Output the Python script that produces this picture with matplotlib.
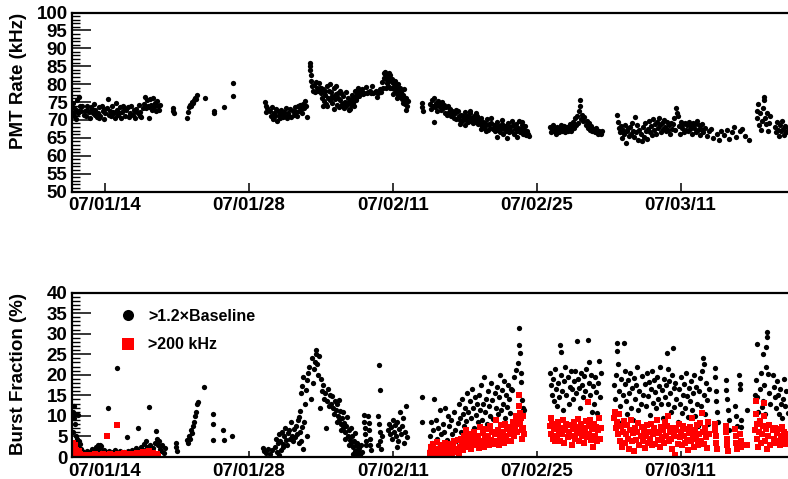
import matplotlib
matplotlib.use('Agg')
import matplotlib.pyplot as plt
from matplotlib.ticker import MultipleLocator, FixedLocator, FixedFormatter

# fonts: bold helvetica-like, like the ROOT canvas
plt.rcParams['font.family'] = ['Liberation Sans', 'DejaVu Sans']
plt.rcParams['font.weight'] = 'bold'
plt.rcParams['axes.labelweight'] = 'bold'

# x axis is day of year 2007
tick_days = [14, 28, 42, 56, 70]
tick_labels = ['07/01/14', '07/01/28', '07/02/11', '07/02/25', '07/03/11']

# PMT rate (kHz), (day, rate)
pmt_points = [
    (10.8, 73.5), (10.85, 72.0), (10.9, 74.8), (11.0, 71.0), (11.05, 73.0), (11.15, 70.3), (11.25, 72.5),
    (11.3, 75.5), (11.4, 71.8), (11.5, 76.3), (11.6, 73.8), (11.7, 72.5), (11.8, 74.0), (11.95, 71.5),
    (12.1, 72.5), (12.2, 71.0), (12.3, 73.8), (12.45, 72.2), (12.55, 70.5), (12.7, 73.0), (12.8, 71.8),
    (12.95, 74.5), (13.05, 72.8), (13.2, 70.8), (13.3, 72.0), (13.45, 73.5), (13.55, 71.2), (13.7, 74.0),
    (13.8, 72.5), (13.95, 70.2), (14.05, 71.8), (14.2, 73.2), (14.3, 75.8), (14.45, 72.5), (14.55, 71.0),
    (14.7, 73.8), (14.8, 72.2), (14.95, 70.6), (15.05, 74.8), (15.2, 72.8), (15.3, 71.5), (15.45, 73.5),
    (15.55, 70.5), (15.7, 72.2), (15.8, 74.0), (15.95, 71.2), (16.05, 72.8), (16.2, 73.5), (16.3, 70.8),
    (16.45, 72.0), (16.55, 73.8), (16.7, 71.5), (16.8, 72.8), (16.95, 70.5), (17.05, 73.0), (17.2, 71.8),
    (17.3, 74.2), (17.45, 72.2), (17.55, 70.8), (17.7, 73.2),
    (12.25, 72.8), (12.6, 73.5), (13.0, 71.5), (13.4, 70.5), (13.9, 73.0), (14.4, 71.5), (14.9, 72.0),
    (15.4, 71.8), (15.9, 73.2), (16.4, 71.5), (16.9, 72.5), (17.4, 71.0),
    (17.8, 74.5), (17.9, 76.5), (18.0, 73.2), (18.05, 75.5), (18.15, 74.0), (18.25, 70.6), (18.3, 73.5),
    (18.4, 75.8), (18.5, 74.2), (18.6, 72.8), (18.7, 76.0), (18.8, 73.5), (18.9, 74.8), (19.0, 72.5),
    (19.1, 75.2), (19.2, 73.8), (19.3, 72.8), (19.4, 74.2),
    (20.6, 73.4), (20.65, 72.6), (20.75, 71.9),
    (22.0, 70.6), (22.05, 72.2), (22.2, 73.6), (22.3, 74.2), (22.4, 73.8), (22.5, 75.0), (22.6, 74.6),
    (22.7, 75.5), (22.8, 76.2), (22.9, 75.8), (23.0, 77.0), (23.7, 76.2), (24.6, 72.0), (24.65, 72.5),
    (25.6, 73.6), (26.45, 80.3), (26.45, 76.7),
    (29.6, 75.0), (29.65, 74.0), (29.7, 72.2), (29.8, 73.2),
    (30.05, 72.5), (30.15, 71.0), (30.25, 73.5), (30.35, 70.2), (30.45, 72.0), (30.55, 71.2), (30.65, 73.0),
    (30.75, 69.8), (30.85, 72.5), (30.95, 71.5), (31.05, 70.5), (31.15, 72.8), (31.25, 71.8), (31.35, 70.8),
    (31.45, 72.2), (31.55, 71.0), (31.65, 73.2), (31.75, 70.5), (31.85, 72.0), (31.95, 71.2), (32.05, 73.0),
    (32.15, 70.8), (32.25, 72.5), (32.35, 71.5), (32.45, 73.5), (32.55, 72.2), (32.65, 71.0), (32.75, 73.8),
    (32.85, 72.5), (32.95, 74.2), (33.05, 73.0), (33.15, 72.0), (33.25, 74.5), (33.35, 73.2), (33.45, 75.2),
    (33.55, 74.0), (33.65, 70.7),
    (33.95, 85.9), (33.95, 85.0), (33.98, 84.0), (34.0, 82.6), (34.05, 80.8), (34.1, 79.5), (34.2, 78.2),
    (34.3, 79.8), (34.4, 77.8), (34.5, 80.5), (34.6, 79.0), (34.7, 78.0), (34.8, 80.2), (34.9, 79.0),
    (35.0, 77.5), (35.1, 76.0), (35.2, 78.5), (35.3, 75.2), (35.4, 77.0), (35.5, 74.5), (35.6, 79.5),
    (35.7, 76.2), (35.8, 78.0), (35.9, 75.5), (36.0, 77.8), (36.1, 74.8), (36.2, 76.5), (36.3, 78.8),
    (36.4, 75.8), (36.5, 77.2), (36.6, 74.2), (36.7, 76.0), (36.8, 73.5), (36.9, 75.5), (37.0, 77.5),
    (37.1, 74.5), (37.2, 76.8), (37.3, 73.2), (37.4, 75.0), (37.5, 74.0), (37.6, 76.2), (37.7, 72.8),
    (37.8, 75.5), (37.9, 74.2), (38.0, 77.0), (38.1, 74.8), (38.2, 76.5), (38.3, 78.2), (38.4, 75.5),
    (38.5, 77.2), (38.6, 79.0), (38.7, 76.8),
    (35.05, 79.0), (35.25, 73.8), (35.45, 78.2), (35.65, 74.0), (35.85, 80.0), (36.05, 76.8),
    (36.25, 73.0), (36.45, 79.5), (36.65, 77.5), (36.85, 78.2), (37.05, 73.8), (37.25, 74.8),
    (37.45, 77.8), (37.65, 74.8), (37.85, 73.0), (38.05, 75.8), (38.25, 73.8), (38.45, 76.2),
    (38.65, 78.2),
    (38.9, 77.8), (39.0, 78.5), (39.1, 77.2), (39.25, 77.6), (39.4, 79.2), (39.5, 77.5), (39.6, 77.8),
    (39.75, 78.0), (39.9, 77.6), (40.0, 79.6), (40.1, 77.4), (40.25, 77.8), (40.4, 78.2), (40.5, 76.5),
    (40.6, 77.6), (40.75, 78.5), (40.9, 77.9),
    (41.0, 80.5), (41.1, 81.8), (41.2, 82.8), (41.25, 83.4), (41.3, 81.5), (41.4, 80.2), (41.5, 82.0),
    (41.55, 79.5), (41.65, 81.2), (41.7, 82.5), (41.8, 80.8), (41.9, 79.0), (42.0, 80.2), (42.1, 78.5),
    (42.2, 79.8), (42.3, 77.8), (42.4, 79.0), (42.5, 77.0), (42.6, 78.5), (42.7, 76.5), (42.8, 77.8),
    (42.9, 75.8), (43.0, 77.0), (43.1, 75.5), (43.2, 74.5), (43.3, 76.0), (43.4, 73.8),
    (41.05, 78.8), (41.15, 83.0), (41.35, 79.0), (41.6, 83.2), (41.75, 78.8), (41.95, 81.5),
    (42.05, 77.2), (42.25, 81.0), (42.45, 76.2), (42.55, 80.0), (42.75, 78.8), (42.95, 74.8),
    (43.05, 78.5), (43.25, 72.8), (43.45, 75.2),
    (44.8, 74.7), (44.85, 73.6), (44.9, 72.5),
    (45.6, 74.5), (45.7, 73.0), (45.8, 75.5), (45.9, 74.0), (46.0, 76.0), (46.1, 73.5), (46.2, 74.8),
    (46.3, 72.5), (46.4, 75.2), (46.5, 73.8), (46.6, 74.5), (46.7, 72.8), (46.8, 75.0), (46.9, 73.2),
    (47.0, 74.2), (47.1, 72.0), (47.2, 73.5), (47.3, 71.5), (47.4, 74.0), (47.5, 72.2), (47.6, 73.0),
    (47.7, 71.2), (47.8, 72.5), (46.05, 69.4),
    (47.9, 72.0), (48.0, 70.5), (48.1, 71.8), (48.2, 70.2), (48.3, 72.5), (48.4, 71.0), (48.5, 70.0),
    (48.6, 71.5), (48.7, 69.8), (48.8, 71.2), (48.9, 70.5), (49.0, 72.2), (49.1, 70.0), (49.2, 71.0),
    (49.3, 69.5), (49.4, 70.8), (49.5, 71.8), (49.6, 69.8), (49.7, 70.5), (49.8, 69.2), (49.9, 71.0),
    (50.0, 70.0), (50.1, 69.5), (50.2, 71.2), (50.3, 68.8), (50.4, 70.2), (50.5, 69.0), (50.6, 70.5),
    (50.7, 68.2), (50.8, 69.5), (50.9, 67.8), (51.0, 69.2), (51.1, 68.5), (51.2, 70.2), (51.3, 67.2),
    (51.4, 68.8), (51.5, 67.8), (51.6, 69.0),
    (48.15, 72.8), (48.55, 68.8), (49.05, 68.5), (49.55, 72.5), (50.05, 71.8), (50.55, 67.5),
    (51.05, 66.8), (51.55, 70.5), (52.1, 65.2), (52.6, 70.0), (53.1, 65.0), (53.6, 69.8),
    (54.1, 65.3), (54.6, 69.5),
    (51.75, 67.5), (51.85, 68.5), (51.95, 66.8), (52.05, 68.0), (52.15, 69.5), (52.25, 67.2), (52.35, 68.2),
    (52.45, 66.5), (52.55, 67.8), (52.65, 68.8), (52.75, 66.2), (52.85, 67.5), (52.95, 68.2), (53.05, 66.8),
    (53.15, 67.8), (53.25, 69.2), (53.35, 66.5), (53.45, 68.0), (53.55, 67.0), (53.65, 68.5), (53.75, 66.2),
    (53.85, 67.5), (53.95, 68.8), (54.05, 66.8), (54.15, 67.8), (54.25, 69.8), (54.35, 66.5), (54.45, 67.5),
    (54.55, 68.5), (54.65, 66.0), (54.75, 67.2), (54.85, 68.2), (54.95, 65.8), (55.05, 67.0), (55.15, 66.2),
    (55.3, 65.5),
    (57.3, 68.0), (57.35, 66.5), (57.45, 67.2), (57.55, 68.5), (57.65, 66.8), (57.75, 67.5), (57.85, 66.2),
    (57.95, 68.0), (58.05, 67.0), (58.15, 66.5), (58.25, 67.8), (58.35, 68.5), (58.45, 66.8), (58.55, 67.5),
    (58.65, 68.2), (58.75, 66.5), (58.85, 67.2), (58.95, 68.0), (59.05, 66.8), (59.15, 67.5), (59.25, 68.8),
    (59.35, 67.0), (59.45, 68.2), (59.55, 69.5), (59.65, 67.8), (59.75, 70.5), (59.85, 68.5), (59.95, 71.0),
    (60.05, 69.2), (60.15, 72.5), (60.2, 75.6), (60.25, 73.8), (60.35, 70.2), (60.45, 71.5), (60.55, 69.8),
    (60.65, 70.8), (60.75, 68.5), (60.85, 69.8), (60.95, 67.8), (61.05, 69.0), (61.15, 67.2), (61.25, 68.2),
    (61.35, 66.8), (61.5, 67.5), (61.65, 66.5), (61.8, 67.8), (61.95, 66.2), (62.1, 67.0), (62.25, 66.0),
    (62.4, 66.8),
    (63.85, 71.4), (63.9, 69.5), (64.0, 67.8), (64.1, 66.5), (64.2, 68.2), (64.3, 65.0), (64.4, 67.2),
    (64.5, 66.0), (64.6, 68.5), (64.7, 63.5), (64.8, 66.8), (64.9, 67.8), (65.0, 65.5), (65.1, 68.0),
    (65.2, 66.2), (65.3, 69.0), (65.4, 67.0), (65.5, 65.2), (65.6, 70.8), (65.7, 66.5), (65.8, 68.5),
    (65.9, 64.5), (66.0, 67.2), (66.1, 66.0), (66.2, 64.2), (66.3, 68.0), (66.4, 65.2), (66.5, 69.2),
    (66.6, 66.8), (66.7, 64.8), (66.8, 67.5), (66.9, 69.8), (67.0, 66.5), (67.1, 68.2), (67.2, 65.8),
    (67.3, 70.2), (67.4, 67.2), (67.5, 68.8), (67.6, 66.0), (67.7, 69.5), (67.8, 67.8), (67.9, 70.5),
    (68.0, 68.5), (68.1, 66.5), (68.2, 69.2), (68.3, 67.5), (68.4, 70.0), (68.5, 68.0), (68.6, 66.8),
    (68.7, 69.5), (68.8, 67.2), (68.9, 68.5), (69.0, 66.2), (69.1, 69.0), (69.2, 67.5), (69.3, 68.8),
    (69.4, 70.5), (69.5, 67.2), (69.6, 73.2), (69.65, 72.0), (69.7, 71.0), (69.8, 68.2), (69.9, 66.0),
    (70.0, 69.5), (70.1, 67.8), (70.2, 68.8), (70.3, 66.5), (70.4, 69.2), (70.5, 67.2), (70.6, 68.5),
    (70.7, 66.8), (70.8, 69.5), (70.9, 67.5), (71.0, 68.2), (71.1, 66.2), (71.2, 69.0), (71.3, 67.8),
    (71.4, 68.8), (71.5, 66.5), (71.6, 69.8), (71.7, 67.2), (71.8, 68.5), (71.9, 65.8), (72.0, 67.5),
    (72.1, 68.8), (72.2, 66.5), (72.4, 67.8), (72.6, 65.5), (72.8, 66.8), (73.0, 67.5), (73.2, 65.0),
    (73.5, 66.2), (73.7, 64.5), (73.9, 66.8), (74.2, 65.8), (74.5, 67.2), (74.7, 64.8), (75.0, 66.5),
    (75.2, 68.0), (75.4, 65.2), (75.8, 66.8), (76.0, 67.5), (76.3, 65.5), (76.7, 64.5),
    (77.4, 70.5), (77.45, 72.5), (77.5, 74.5), (77.6, 68.5), (77.7, 71.8), (77.8, 67.2), (77.9, 69.8),
    (78.0, 73.2), (78.1, 75.5), (78.15, 76.4), (78.2, 70.5), (78.3, 68.8), (78.4, 72.0), (78.5, 66.8),
    (78.6, 69.2), (78.7, 71.0), (79.2, 68.0), (79.3, 66.5), (79.4, 69.5), (79.5, 67.2), (79.6, 65.5),
    (79.7, 68.5), (79.8, 66.8), (79.9, 69.8), (80.0, 67.5), (80.1, 65.8), (80.2, 68.2), (80.3, 66.5),
    (80.4, 67.8),
]

# burst fraction (%) above 1.2 x baseline, (day, fraction)
burst_base_points = [
    (10.8, 3.5), (10.85, 6.0), (10.9, 11.0), (10.95, 12.5), (11.0, 9.5), (11.05, 8.0), (11.1, 10.5),
    (11.15, 5.0), (11.2, 3.0), (11.3, 4.5), (11.35, 10.3), (11.4, 2.5), (11.5, 4.0), (11.6, 3.2),
    (11.7, 2.0), (11.8, 1.5), (11.9, 1.2),
    (12.1, 1.0), (12.3, 1.5), (12.5, 1.2), (12.7, 2.0), (12.9, 1.8), (13.1, 2.5), (13.3, 1.5),
    (13.5, 2.2), (13.7, 1.0), (13.9, 1.8), (14.1, 1.2), (14.3, 11.9), (14.4, 1.5), (14.6, 0.8),
    (14.8, 1.2), (15.0, 1.8), (15.2, 21.7), (15.3, 1.0), (15.5, 1.5), (15.7, 0.8), (15.9, 1.2),
    (16.1, 4.9), (16.2, 1.5), (16.4, 1.0), (16.6, 1.8), (16.8, 1.2), (17.0, 2.2), (17.2, 7.1),
    (17.3, 1.5), (17.5, 2.5), (17.7, 1.8), (17.8, 3.2), (18.0, 4.0), (18.1, 2.5), (18.3, 12.2),
    (18.4, 3.0), (18.5, 1.8), (18.7, 2.2), (18.9, 3.5), (19.0, 6.3), (19.1, 4.5), (19.2, 2.8),
    (19.3, 3.8), (19.4, 2.0), (19.5, 1.5), (19.6, 3.0), (19.7, 1.0), (19.8, 2.2),
    (13.3, 2.8), (13.5, 3.0), (13.6, 2.6),
    (20.9, 3.5), (20.95, 2.5), (21.0, 1.5),
    (22.0, 4.1), (22.05, 3.5), (22.2, 5.0), (22.3, 4.5), (22.4, 6.5), (22.5, 5.8), (22.6, 7.5),
    (22.7, 8.5), (22.8, 10.0), (22.9, 10.9), (23.0, 12.8), (23.05, 13.3), (23.6, 17.0),
    (24.5, 10.5), (24.55, 8.0), (24.5, 4.1), (25.5, 6.6), (25.55, 4.1), (26.4, 5.1),
    (29.4, 2.2), (29.5, 1.5), (29.7, 1.0), (29.9, 2.0), (30.1, 0.8), (30.3, 1.6), (30.5, 2.4),
    (30.7, 1.2), (30.9, 0.6), (31.1, 1.8), (31.3, 2.5),
    (30.6, 4.5), (30.8, 3.5), (30.9, 5.5), (31.0, 4.0), (31.2, 6.0), (31.3, 3.2), (31.4, 5.0),
    (31.5, 7.0), (31.6, 4.2), (31.7, 3.0), (31.8, 5.8), (31.9, 6.5), (32.0, 4.5), (32.1, 8.5),
    (32.2, 5.2), (32.3, 3.8), (32.4, 6.8), (32.5, 4.8), (32.6, 7.5), (32.7, 5.5), (32.8, 9.0),
    (32.9, 3.5), (33.0, 6.2), (33.1, 4.0), (33.2, 7.2), (33.3, 2.0),
    (32.9, 9.7), (33.0, 11.1), (33.1, 15.5), (33.2, 17.3), (33.3, 19.5), (33.4, 8.5), (33.5, 13.0),
    (33.6, 16.3), (33.7, 18.7), (33.8, 20.4), (33.65, 5.0), (33.9, 22.0), (34.0, 14.0), (34.1, 24.0),
    (34.2, 18.0), (34.3, 21.5), (34.4, 23.0), (34.5, 26.0), (34.55, 25.0), (34.6, 22.5), (34.7, 20.0),
    (34.8, 24.5), (34.9, 12.0),
    (35.0, 19.0), (35.1, 16.0), (35.2, 17.5), (35.3, 14.0), (35.4, 15.5), (35.5, 7.0), (35.6, 13.5),
    (35.7, 16.5), (35.8, 12.5), (35.9, 15.0), (36.0, 13.0), (36.1, 14.8), (36.2, 12.0), (36.3, 10.5),
    (36.4, 13.5),
    (36.5, 11.5), (36.6, 12.8), (36.7, 10.0), (36.8, 9.0), (36.9, 11.2), (37.0, 8.0), (37.1, 9.5),
    (37.2, 7.0), (37.3, 8.2), (37.4, 6.0), (37.5, 7.5), (37.6, 5.0), (37.7, 6.5), (37.8, 4.2),
    (37.9, 3.5), (38.0, 5.0), (38.1, 2.5), (38.2, 4.0), (38.3, 1.5), (38.4, 3.0), (38.5, 0.8),
    (38.6, 2.0), (38.7, 1.0), (38.8, 0.5), (38.9, 2.8), (39.0, 1.2),
    (36.55, 8.5), (36.75, 13.8), (36.95, 6.5), (37.15, 11.0), (37.35, 4.5), (37.55, 9.8),
    (37.75, 3.0), (37.95, 7.0), (38.15, 0.8), (38.35, 5.8), (38.55, 3.5), (38.75, 2.2),
    (39.2, 10.3), (39.25, 8.5), (39.3, 7.0), (39.3, 5.5), (39.35, 4.0), (39.4, 2.8), (39.6, 10.0),
    (39.65, 8.2), (39.7, 6.5), (39.75, 4.5), (39.8, 3.0), (39.85, 1.6),
    (40.7, 22.4), (40.75, 16.3), (40.6, 10.0), (40.7, 8.0), (40.75, 6.0), (40.8, 4.0), (40.6, 3.0),
    (40.9, 2.0), (41.0, 5.0),
    (41.5, 6.5), (41.6, 8.0), (41.7, 5.5), (41.8, 7.2), (41.9, 4.5), (42.0, 9.0), (42.1, 6.0),
    (42.2, 7.8), (42.3, 5.0), (42.4, 8.5), (42.5, 4.0), (42.6, 6.8), (42.7, 11.0), (42.8, 5.5),
    (42.9, 7.5), (43.0, 9.5), (43.1, 3.5), (43.2, 6.2), (43.3, 12.5), (43.4, 4.8), (42.45, 2.4),
    (44.8, 14.6), (44.85, 8.5),
    (45.6, 5.0), (45.65, 2.0), (45.7, 8.5), (45.8, 3.5), (45.9, 6.5), (46.0, 14.0), (46.1, 1.5),
    (46.2, 9.0), (46.3, 4.5), (46.4, 7.0), (46.5, 2.5), (46.6, 11.5), (46.7, 5.5), (46.8, 3.0),
    (46.9, 8.0), (47.0, 6.0), (47.1, 12.0), (47.2, 1.0), (47.3, 4.2), (47.4, 10.0), (47.5, 7.5),
    (47.6, 3.5), (47.7, 9.0), (47.8, 5.5), (47.9, 2.0), (48.0, 11.0), (48.1, 6.5), (48.2, 4.0),
    (48.3, 8.2), (48.4, 13.0),
    (48.5, 9.5), (48.6, 6.0), (48.7, 14.0), (48.8, 10.5), (48.9, 7.5), (49.0, 12.0), (49.1, 8.8),
    (49.2, 15.5), (49.3, 11.0), (49.4, 5.5), (49.5, 13.5), (49.6, 9.5), (49.7, 16.5), (49.8, 11.8),
    (49.9, 7.0), (50.0, 14.5), (50.1, 10.2), (50.2, 12.8), (50.3, 8.5), (50.4, 15.0), (50.5, 11.5),
    (50.6, 17.5), (50.7, 9.0), (50.8, 13.0), (50.9, 19.5), (51.0, 11.0), (51.1, 14.2), (51.2, 8.0),
    (51.3, 16.0), (51.4, 12.5), (51.5, 10.0), (51.6, 18.0), (51.7, 13.8), (51.8, 9.2), (51.9, 15.5),
    (52.0, 12.0), (52.1, 17.0), (52.2, 10.5), (52.3, 14.5), (52.4, 20.0), (52.5, 11.5), (52.6, 16.2),
    (52.7, 13.0), (52.8, 18.5), (52.9, 9.5), (53.0, 15.0), (53.1, 12.2), (53.2, 17.5), (53.3, 14.0),
    (53.4, 10.8), (53.5, 16.5),
    (53.6, 16.3), (53.8, 19.5), (54.0, 21.2), (54.2, 22.9), (54.27, 31.4), (54.3, 27.2), (54.4, 25.3),
    (54.5, 18.2), (54.6, 13.9), (54.7, 11.9), (54.8, 11.5), (54.45, 20.5),
    (57.3, 20.5), (57.4, 17.5), (57.5, 15.0), (57.6, 19.0), (57.7, 13.5), (57.8, 21.5), (57.9, 16.5),
    (58.0, 12.5), (58.1, 18.0), (58.2, 14.5), (58.3, 27.2), (58.35, 25.5), (58.4, 20.0), (58.5, 16.0),
    (58.6, 11.5), (58.7, 18.5), (58.8, 22.0), (58.9, 15.0), (59.0, 19.5), (59.1, 13.0), (59.2, 17.0),
    (59.3, 20.8), (59.4, 16.5), (59.5, 14.0), (59.6, 18.5), (59.7, 21.0), (59.8, 15.5), (59.9, 28.2),
    (60.0, 19.0), (60.1, 16.8), (60.2, 12.0), (60.3, 20.5), (60.4, 17.5), (60.5, 14.5), (60.6, 19.8),
    (60.7, 16.0), (60.8, 21.5), (60.9, 13.5), (61.0, 28.5), (61.05, 23.1), (61.1, 18.0), (61.2, 15.0),
    (61.3, 20.0), (61.4, 11.0), (61.5, 17.2), (61.6, 13.0), (61.7, 19.5), (61.8, 15.8), (61.9, 10.7),
    (62.0, 18.0), (62.1, 23.4), (62.2, 14.5), (62.3, 20.5),
    (63.5, 17.5), (63.6, 14.0), (63.7, 20.0), (63.8, 27.7), (63.85, 25.8), (63.9, 22.6), (64.0, 16.0),
    (64.1, 12.5), (64.2, 19.0), (64.3, 8.5), (64.4, 15.0), (64.5, 27.7), (64.55, 21.0), (64.6, 17.8),
    (64.7, 13.5), (64.8, 10.5), (64.9, 18.8), (65.0, 15.5), (65.1, 20.5), (65.2, 12.0), (65.3, 16.8),
    (65.4, 9.0), (65.5, 19.2), (65.6, 14.2), (65.7, 17.5), (65.8, 21.8), (65.9, 11.5), (66.0, 16.0),
    (66.1, 13.0), (66.2, 19.8), (66.3, 15.2), (66.4, 7.5), (66.5, 17.8), (66.6, 12.5), (66.7, 20.5),
    (66.8, 14.8), (66.9, 18.2), (67.0, 10.2), (67.1, 16.5), (67.2, 21.0), (67.3, 13.2), (67.4, 18.8),
    (67.5, 15.8), (67.6, 11.8), (67.7, 19.5), (67.8, 14.0), (67.9, 17.2), (68.0, 22.0), (68.1, 12.8),
    (68.2, 16.2), (68.3, 9.5), (68.4, 19.0), (68.5, 14.5), (68.6, 17.5), (68.7, 25.3), (68.75, 21.5),
    (68.8, 13.0), (68.9, 18.5), (69.0, 15.5), (69.1, 11.0), (69.2, 20.0), (69.3, 26.5), (69.35, 16.8),
    (69.4, 12.2), (69.5, 18.0), (69.6, 14.2), (69.7, 8.5), (69.8, 16.5), (69.9, 13.0), (70.0, 19.5),
    (70.1, 10.8), (70.2, 15.0), (70.3, 17.8), (70.4, 12.0), (70.5, 20.5), (70.6, 14.8), (70.7, 9.8),
    (70.8, 16.8), (70.9, 13.5), (71.0, 18.5), (71.1, 11.5), (71.2, 15.5), (71.3, 20.0), (71.4, 10.0),
    (71.5, 17.0), (71.6, 13.0), (71.7, 7.5), (71.8, 16.0), (71.9, 19.2), (72.0, 12.5), (72.1, 21.0),
    (72.2, 24.1), (72.25, 22.5), (72.3, 15.0), (72.4, 10.5), (72.5, 18.0), (72.6, 13.8), (72.7, 8.0),
    (72.8, 16.5),
    (73.3, 21.7), (73.35, 19.4), (73.4, 16.0), (73.45, 13.5), (73.5, 11.0), (73.6, 8.5), (74.4, 18.7),
    (74.45, 16.2), (74.5, 14.0), (74.6, 11.5), (74.7, 9.0), (74.75, 6.6), (75.3, 12.5), (75.4, 10.0),
    (75.5, 7.5), (75.7, 20.0), (75.75, 17.8), (75.8, 16.5), (75.85, 9.0), (75.9, 7.2), (76.5, 11.4),
    (77.2, 15.0), (77.3, 18.7), (77.4, 27.5), (77.45, 14.6), (77.5, 11.0), (77.6, 9.0), (77.7, 16.5),
    (77.8, 20.5), (77.9, 12.2), (78.0, 25.0), (78.05, 13.5), (78.1, 17.5), (78.2, 10.5), (78.3, 21.9),
    (78.35, 26.8), (78.4, 30.4), (78.45, 29.2), (78.5, 20.3), (78.6, 15.5), (78.7, 12.8),
    (79.0, 20.0), (79.1, 17.0), (79.2, 14.5), (79.3, 12.0), (79.4, 18.5), (79.5, 15.0), (79.6, 10.5),
    (79.7, 16.5), (79.8, 13.0), (79.9, 9.5), (80.0, 14.2), (80.1, 19.0), (80.2, 12.5), (80.3, 16.0),
    (80.4, 10.8),
]

# burst fraction (%) above 200 kHz, (day, fraction)
burst_200_points = [
    (10.8, 1.5), (10.85, 2.5), (10.9, 3.5), (10.95, 3.0), (11.0, 2.2), (11.05, 1.0), (11.1, 2.8),
    (11.15, 1.8), (11.2, 0.8), (11.3, 1.2), (11.4, 0.5), (11.5, 1.5), (11.6, 0.8), (11.7, 0.4),
    (11.85, 0.6), (12.0, 0.3),
    (12.25, 0.3), (12.45, 0.6), (12.65, 0.2), (12.85, 0.5), (13.05, 0.8), (13.25, 0.3), (13.45, 0.6),
    (13.65, 0.4), (13.85, 0.7), (14.05, 0.3), (14.25, 5.1), (14.3, 0.5), (14.5, 0.8), (14.7, 0.3),
    (14.9, 0.6), (15.1, 0.4), (15.2, 7.8), (15.3, 0.7), (15.5, 0.3), (15.7, 0.6), (15.9, 0.9),
    (16.1, 0.4), (16.3, 0.7), (16.5, 0.3), (16.7, 0.8), (16.9, 0.5), (17.1, 1.0), (17.3, 0.4),
    (17.5, 0.7), (17.7, 1.2), (17.9, 0.5), (18.1, 0.9), (18.3, 1.5), (18.5, 0.6), (18.7, 1.0),
    (18.9, 0.4), (19.1, 0.8), (19.2, 0.3),
    (45.6, 1.0), (45.7, 2.5), (45.8, 0.5), (45.9, 3.2), (46.0, 1.5), (46.1, 0.3), (46.2, 2.0),
    (46.3, 3.6), (46.4, 0.8), (46.5, 1.8), (46.6, 0.4), (46.7, 2.8), (46.8, 1.2), (46.9, 0.6),
    (47.0, 2.2), (47.1, 3.5), (47.2, 0.5), (47.3, 1.5), (47.4, 2.8), (47.5, 0.8), (47.6, 3.2),
    (47.7, 1.5), (47.8, 0.5), (47.9, 2.5), (48.0, 3.8), (48.1, 1.2), (48.2, 2.0), (48.3, 4.2),
    (48.4, 1.0),
    (48.5, 2.5), (48.6, 4.5), (48.7, 3.2), (48.8, 1.8), (48.9, 5.0), (49.0, 3.8), (49.1, 6.5),
    (49.2, 2.5), (49.3, 4.2), (49.4, 3.0), (49.5, 5.5), (49.6, 2.0), (49.7, 4.8), (49.8, 3.5),
    (49.9, 6.0), (50.0, 2.8), (50.1, 4.5), (50.2, 3.2), (50.3, 5.2), (50.4, 2.2), (50.5, 7.2),
    (50.6, 4.0), (50.7, 3.0), (50.8, 5.8), (50.9, 2.5), (51.0, 4.5), (51.1, 6.8), (51.2, 3.5),
    (51.3, 5.0), (51.4, 2.8), (51.5, 7.5), (51.6, 4.2), (51.7, 6.0), (51.8, 3.2), (51.9, 5.5),
    (52.0, 9.0), (52.1, 4.0), (52.2, 6.5), (52.3, 3.0), (52.4, 5.2), (52.5, 7.8), (52.6, 4.5),
    (52.7, 6.2), (52.8, 3.5), (52.9, 8.0), (53.0, 5.0), (53.1, 6.8), (53.2, 4.0), (53.3, 7.2),
    (53.4, 5.5), (53.5, 3.8),
    (53.6, 6.5), (53.7, 8.5), (53.8, 5.0), (53.9, 7.5), (54.0, 10.0), (54.1, 6.0), (54.2, 9.0),
    (54.25, 15.0), (54.3, 12.5), (54.35, 10.7), (54.4, 8.0), (54.5, 9.5), (54.55, 6.5), (54.6, 4.5),
    (54.65, 10.0), (54.7, 7.0), (54.8, 5.5),
    (57.3, 7.5), (57.35, 9.5), (57.4, 5.5), (57.5, 8.0), (57.6, 4.5), (57.7, 6.8), (57.8, 3.8),
    (57.9, 7.2), (58.0, 5.0), (58.1, 8.5), (58.2, 6.0), (58.3, 4.0), (58.4, 7.0), (58.5, 5.5),
    (58.6, 9.0), (58.7, 3.5), (58.8, 6.5), (58.9, 8.0), (59.0, 4.8), (59.1, 6.2), (59.2, 7.8),
    (59.3, 5.2), (59.4, 3.0), (59.5, 6.8), (59.6, 8.5), (59.7, 4.5), (59.8, 7.2), (59.9, 5.8),
    (60.0, 9.2), (60.1, 4.0), (60.2, 6.5), (60.3, 8.0), (60.4, 5.2), (60.5, 7.0), (60.6, 3.5),
    (60.7, 6.0), (60.8, 8.8), (60.9, 4.8), (61.0, 13.4), (61.05, 7.5), (61.1, 5.5), (61.2, 9.0),
    (61.3, 4.2), (61.4, 6.8), (61.5, 2.5), (61.6, 8.0), (61.7, 5.0), (61.8, 7.2), (61.9, 3.8),
    (62.0, 6.5), (62.1, 9.5), (62.2, 4.5), (62.3, 7.0),
    (63.5, 9.5), (63.6, 11.0), (63.7, 7.0), (63.8, 8.5), (63.9, 5.5), (64.0, 10.5), (64.1, 4.0),
    (64.2, 7.5), (64.3, 2.5), (64.4, 6.0), (64.5, 8.8), (64.6, 3.5), (64.7, 5.5), (64.8, 7.8),
    (64.9, 4.5), (65.0, 2.0), (65.1, 6.5), (65.2, 9.0), (65.3, 3.8), (65.4, 5.8), (65.5, 1.5),
    (65.6, 7.0), (65.7, 4.2), (65.8, 6.2), (65.9, 8.2), (66.0, 3.0), (66.1, 5.2), (66.2, 7.2),
    (66.3, 4.0), (66.4, 6.5), (66.5, 2.2), (66.6, 5.0), (66.7, 7.8), (66.8, 3.5), (66.9, 6.0),
    (67.0, 4.5), (67.1, 8.0), (67.2, 2.8), (67.3, 5.5), (67.4, 7.0), (67.5, 3.2), (67.6, 6.2),
    (67.7, 9.0), (67.8, 4.2), (67.9, 5.8), (68.0, 2.5), (68.1, 7.2), (68.2, 4.8), (68.3, 6.5),
    (68.4, 3.5), (68.5, 8.5), (68.6, 5.0), (68.7, 7.5), (68.8, 10.0), (68.9, 3.8), (69.0, 6.2),
    (69.1, 4.5), (69.2, 2.0), (69.3, 7.0), (69.4, 5.2), (69.5, 0.4), (69.6, 6.5), (69.7, 3.2),
    (69.8, 8.0), (69.9, 4.8), (70.0, 6.0), (70.1, 2.8), (70.2, 7.5), (70.3, 5.0), (70.4, 3.5),
    (70.5, 6.8), (70.6, 4.2), (70.7, 1.8), (70.8, 5.8), (70.9, 7.2), (71.0, 3.8), (71.1, 9.5),
    (71.2, 5.2), (71.3, 2.5), (71.4, 6.5), (71.5, 4.5), (71.6, 7.8), (71.7, 3.0), (71.8, 5.5),
    (71.9, 8.2), (72.0, 4.0), (72.1, 10.8), (72.2, 6.0), (72.3, 3.2), (72.4, 7.0), (72.5, 4.8),
    (72.6, 2.2), (72.7, 8.5), (72.8, 5.5),
    (73.3, 8.0), (73.35, 6.5), (73.4, 5.0), (73.45, 3.5), (73.5, 2.0), (74.4, 7.5), (74.45, 6.0),
    (74.5, 4.5), (74.55, 3.0), (74.6, 1.5), (75.3, 6.8), (75.35, 5.2), (75.4, 3.5), (75.5, 2.0),
    (75.8, 5.5), (75.85, 4.0), (75.9, 2.5), (76.5, 2.8),
    (77.2, 6.5), (77.3, 13.5), (77.35, 10.5), (77.4, 8.0), (77.45, 4.5), (77.5, 2.5), (77.6, 6.0),
    (77.7, 8.8), (77.8, 3.5), (77.9, 5.5), (78.0, 7.5), (78.1, 13.2), (78.15, 10.0), (78.2, 4.0),
    (78.3, 6.8), (78.4, 2.0), (78.5, 5.0), (78.6, 7.8), (78.7, 3.0),
    (79.0, 6.5), (79.1, 4.5), (79.2, 7.0), (79.3, 3.5), (79.4, 5.8), (79.5, 4.0), (79.6, 6.8),
    (79.7, 3.0), (79.8, 5.2), (79.9, 7.2), (80.0, 4.2), (80.1, 6.0), (80.2, 3.2), (80.3, 5.5),
    (80.4, 4.5),
]

legend_labels = ['>1.2\u00d7Baseline', '>200 kHz']

pmt_day, pmt_rate = zip(*pmt_points)
base_day, base_frac = zip(*burst_base_points)
khz_day, khz_frac = zip(*burst_200_points)

fig = plt.figure(figsize=(7.88, 4.79), dpi=100)
ax1 = fig.add_axes([0.091, 0.6002, 0.9162, 0.3737])
ax2 = fig.add_axes([0.091, 0.0459, 0.9162, 0.3434])


def style_axis(ax, ylo, yhi, xtick_len):
    ax.set_xlim(10.77, 81.0)
    ax.set_ylim(ylo, yhi)
    ax.xaxis.set_major_locator(FixedLocator(tick_days))
    ax.xaxis.set_major_formatter(FixedFormatter(tick_labels))
    ax.yaxis.set_major_locator(MultipleLocator(5))
    ax.yaxis.set_minor_locator(MultipleLocator(1))
    ax.tick_params(axis='x', which='major', direction='in', length=xtick_len, width=1.1,
                   labelsize=13.5, pad=4)
    ax.tick_params(axis='y', which='major', direction='in', length=13.5, width=1.1,
                   labelsize=13.5, pad=3)
    ax.tick_params(axis='y', which='minor', direction='in', length=6, width=1.0)
    for sp in ax.spines.values():
        sp.set_linewidth(1.6)


style_axis(ax1, 50, 100, 6.5)
style_axis(ax2, 0, 40, 4.0)

ax1.plot(pmt_day, pmt_rate, 'o', color='black', ms=3.8, mew=0)
l1, = ax2.plot(base_day, base_frac, 'o', color='black', ms=3.8, mew=0)
l2, = ax2.plot(khz_day, khz_frac, 's', color='#ff0000', ms=4.2, mew=0)

ax1.set_ylabel('PMT Rate (kHz)', fontsize=13.5, loc='top')
ax2.set_ylabel('Burst Fraction (%)', fontsize=13.5, loc='top')
ax1.yaxis.set_label_coords(-0.062, 1.0)
ax2.yaxis.set_label_coords(-0.062, 1.0)

ax2.legend([l1, l2], legend_labels, loc='upper left', bbox_to_anchor=(0.058, 0.94),
           frameon=False, fontsize=11.5, handlelength=1.0, handletextpad=0.75,
           markerscale=2.1, labelspacing=0.85, borderaxespad=0, numpoints=1)

fig.savefig('out.png', dpi=100)
